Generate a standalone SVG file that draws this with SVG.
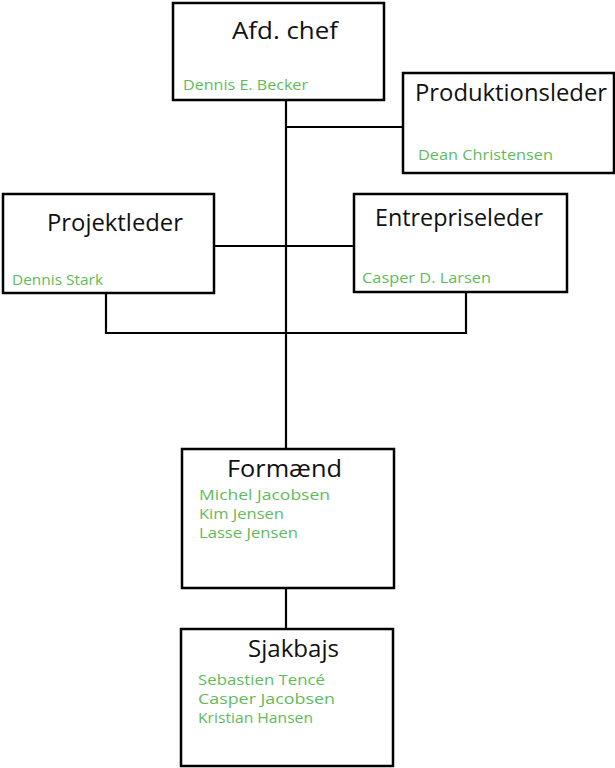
<svg xmlns="http://www.w3.org/2000/svg" width="615" height="768" viewBox="0 0 615 768">
<style>
.box{fill:#fff;stroke:#000;stroke-width:2.5}
.t{font-family:"Open Sans","DejaVu Sans",sans-serif;font-size:24px;fill:#111}
.n{font-family:"Open Sans","DejaVu Sans",sans-serif;font-size:15px;fill:#5fba5b}
.c{fill:none;stroke:#000;stroke-width:2.2}
</style>
<rect width="615" height="768" fill="#fff"/>
<g id="connectors">
<line class="c" x1="286" y1="100" x2="286" y2="449"/>
<line class="c" x1="286" y1="127" x2="403" y2="127"/>
<line class="c" x1="214" y1="246" x2="354" y2="246"/>
<polyline class="c" points="106,293 106,333 466,333 466,292"/>
<line class="c" x1="286" y1="588" x2="286" y2="629"/>
</g>
<g id="afd-chef">
<rect class="box" x="173" y="3" width="211" height="97"/>
<text class="t" x="232" y="39" textLength="106" lengthAdjust="spacingAndGlyphs">Afd. chef</text>
<text class="n" x="183" y="90" textLength="125" lengthAdjust="spacingAndGlyphs">Dennis E. Becker</text>
</g>
<g id="produktionsleder">
<rect class="box" x="403" y="73" width="211" height="100"/>
<text class="t" x="415" y="101" textLength="192" lengthAdjust="spacingAndGlyphs">Produktionsleder</text>
<text class="n" x="418" y="160" textLength="135" lengthAdjust="spacingAndGlyphs">Dean Christensen</text>
</g>
<g id="projektleder">
<rect class="box" x="3" y="194" width="211" height="99"/>
<text class="t" x="47" y="231" textLength="136" lengthAdjust="spacingAndGlyphs">Projektleder</text>
<text class="n" x="12" y="285" textLength="91" lengthAdjust="spacingAndGlyphs">Dennis Stark</text>
</g>
<g id="entrepriseleder">
<rect class="box" x="354" y="194" width="213" height="98"/>
<text class="t" x="375" y="226" textLength="168" lengthAdjust="spacingAndGlyphs">Entrepriseleder</text>
<text class="n" x="362" y="283" textLength="129" lengthAdjust="spacingAndGlyphs">Casper D. Larsen</text>
</g>
<g id="formaend">
<rect class="box" x="182" y="449" width="212" height="139"/>
<text class="t" x="227" y="477" textLength="115" lengthAdjust="spacingAndGlyphs">Formænd</text>
<text class="n" x="199" y="500" textLength="131" lengthAdjust="spacingAndGlyphs">Michel Jacobsen</text>
<text class="n" x="199" y="519" textLength="85" lengthAdjust="spacingAndGlyphs">Kim Jensen</text>
<text class="n" x="199" y="538" textLength="99" lengthAdjust="spacingAndGlyphs">Lasse Jensen</text>
</g>
<g id="sjakbajs">
<rect class="box" x="181" y="629" width="212" height="137"/>
<text class="t" x="248" y="657" textLength="91" lengthAdjust="spacingAndGlyphs">Sjakbajs</text>
<text class="n" x="198" y="685" textLength="127" lengthAdjust="spacingAndGlyphs">Sebastien Tencé</text>
<text class="n" x="198" y="704" textLength="137" lengthAdjust="spacingAndGlyphs">Casper Jacobsen</text>
<text class="n" x="198" y="723" textLength="115" lengthAdjust="spacingAndGlyphs">Kristian Hansen</text>
</g>
</svg>
